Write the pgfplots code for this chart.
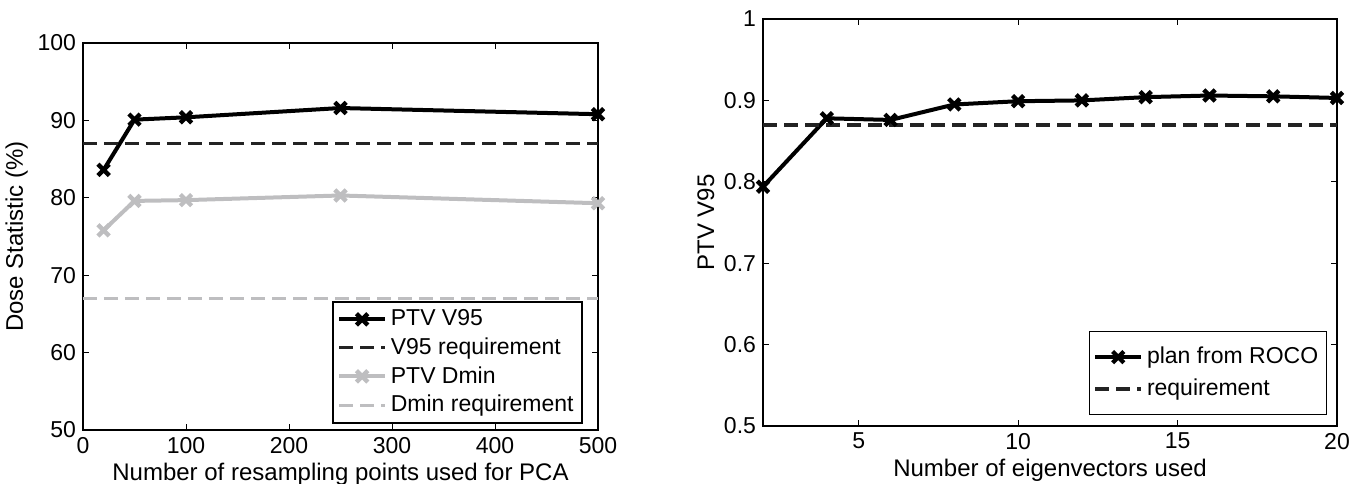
\documentclass[border=0pt]{standalone}
\usepackage{pgfplots}
\pgfplotsset{compat=1.18}
\usepackage{fontspec}
\setmainfont{Liberation Sans}
\definecolor{lgray}{RGB}{190,190,192}
\definecolor{dgray}{RGB}{35,35,35}
\pgfplotsset{
  mstyle/.style={
    /pgf/number format/assume math mode=true,
    tick align=inside,
    tick style={black, line width=0.4pt},
    major tick length=3pt,
    axis line style={line width=0.6pt},
    tick label style={font=\fontsize{11.5}{13}\selectfont},
    label style={font=\fontsize{12}{14}\selectfont},
    legend style={font=\fontsize{11.5}{13}\selectfont, draw=black, line width=0.9pt, inner xsep=2pt, inner ysep=2pt, row sep=0.5pt},
    legend cell align=left,
    legend image code/.code={
      \draw[mark repeat=2,mark phase=2,#1] plot coordinates {(0cm,0cm) (0.4cm,0cm) (0.8cm,0cm)};},
  }
}
\begin{document}
\begin{tikzpicture}
\useasboundingbox (-41.5pt,-26.5pt) rectangle (635.5pt,215pt);
\begin{axis}[mstyle,
  at={(0pt,0pt)}, anchor=south west,
  width=257.5pt, height=193.5pt, scale only axis,
  xmin=0, xmax=500, ymin=50, ymax=100,
  xtick={0,100,200,300,400,500},
  ytick={50,60,70,80,90,100},
  xlabel={Number of resampling points used for PCA},
  ylabel={Dose Statistic (\%)},
  xticklabel style={yshift=0pt},
  xlabel style={yshift=2pt},
  ylabel style={yshift=-2pt},
  legend style={at={(0.97,0.016)}, anchor=south east},
]
\addplot[black, line width=2pt, mark=x, mark size=4pt, mark options={line width=2.2pt}] coordinates {(20,83.6) (50,90.1) (100,90.4) (250,91.6) (500,90.8)};
\addlegendentry{PTV V95}
\addplot[dgray, line width=1.5pt, dash pattern=on 7pt off 3.5pt] coordinates {(0,87) (500,87)};
\addlegendentry{V95 requirement}
\addplot[lgray, line width=2pt, mark=x, mark size=4pt, mark options={line width=2.2pt}] coordinates {(20,75.8) (50,79.6) (100,79.7) (250,80.3) (500,79.3)};
\addlegendentry{PTV Dmin}
\addplot[lgray, line width=1.5pt, dash pattern=on 7pt off 3.5pt] coordinates {(0,67) (500,67)};
\addlegendentry{Dmin requirement}
\end{axis}
\begin{axis}[mstyle,
  at={(340pt,2pt)}, anchor=south west,
  width=287pt, height=203.5pt, scale only axis,
  xmin=2, xmax=20, ymin=0.5, ymax=1,
  xtick={5,10,15,20},
  ytick={0.5,0.6,0.7,0.8,0.9,1},
  yticklabels={0.5,0.6,0.7,0.8,0.9,1},
  xlabel={Number of eigenvectors used},
  ylabel={PTV V95},
  xticklabel style={yshift=0pt},
  xlabel style={yshift=2pt},
  ylabel style={yshift=-2pt},
  legend style={at={(0.982,0.027)}, anchor=south east, line width=0.4pt, inner ysep=6pt, row sep=2pt},
]
\addplot[black, line width=2pt, mark=x, mark size=4pt, mark options={line width=2.2pt}] coordinates {(2,0.794) (4,0.878) (6,0.876) (8,0.895) (10,0.899) (12,0.900) (14,0.904) (16,0.906) (18,0.905) (20,0.903)};
\addlegendentry{plan from ROCO}
\addplot[dgray, line width=1.8pt, dash pattern=on 7pt off 3.5pt] coordinates {(2,0.87) (20,0.87)};
\addlegendentry{requirement}
\end{axis}
\end{tikzpicture}
\end{document}
